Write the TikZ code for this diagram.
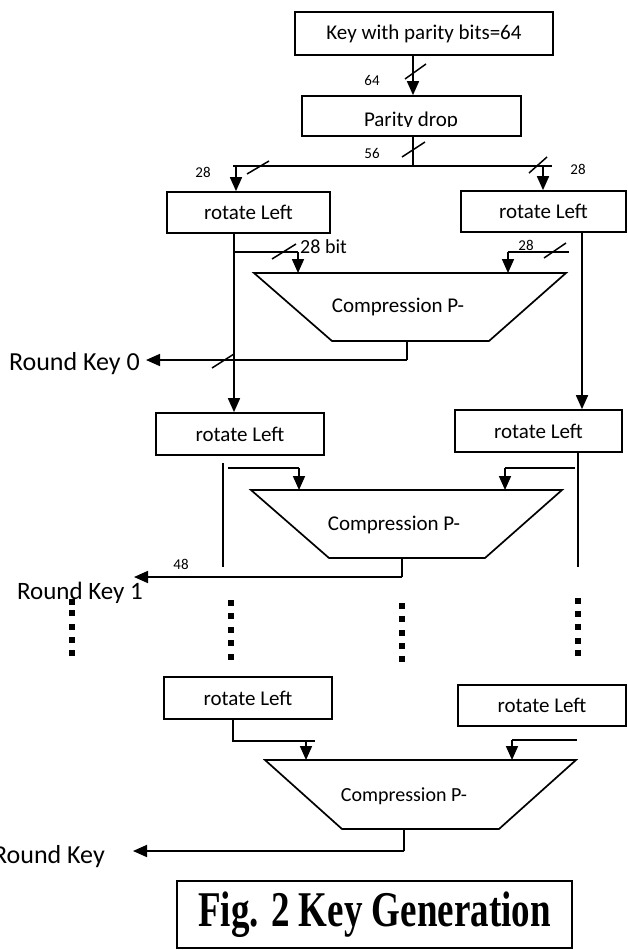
\documentclass[tikz,border=0pt]{standalone}
\usepackage{fontspec}
\usepackage{graphicx}
\setmainfont{Carlito}
\newfontfamily\figfont{Liberation Serif}
\usetikzlibrary{arrows.meta,calc}
\begin{document}
\begin{tikzpicture}[x=1pt,y=-1pt,
  wire/.style={line width=1.7pt},
  arr/.style={wire,-{Triangle[length=14pt,width=12pt]}},
  tick/.style={line width=1.5pt},
  rbox/.style={draw,line width=1.7pt,inner sep=0pt,font=\fontsize{21}{24}\selectfont},
  ctext/.style={inner sep=0pt,font=\fontsize{21}{24}\selectfont},
  lbl/.style={inner sep=0pt,font=\fontsize{15}{17}\selectfont},
  rkey/.style={inner sep=0pt,font=\fontsize{26}{30}\selectfont},
]
\useasboundingbox (0,0) rectangle (627,950);

% ---------- boxes ----------
\node[rbox,minimum width=258pt,minimum height=43pt] (k64) at (424,33.5) {Key with parity bits=64};
\node[rbox,minimum width=219pt,minimum height=40pt] (pd) at (411.5,116) {};
\begin{scope}
  \clip (300,96) rectangle (523,126.5);
  \node[ctext,anchor=base] (pdtext) at (411,126) {Parity drop};
\end{scope}
\node[rbox,minimum width=163pt,minimum height=41pt] (rl1) at (248.5,212.5) {rotate Left};
\node[rbox,minimum width=165pt,minimum height=41pt] (rr1) at (543.5,211.5) {rotate Left};
\node[rbox,minimum width=168pt,minimum height=42pt] (rl2) at (240,434) {rotate Left};
\node[rbox,minimum width=167pt,minimum height=42pt] (rr2) at (538.5,431) {rotate Left};
\node[rbox,minimum width=168pt,minimum height=42pt] (rl3) at (248,698) {rotate Left};
\node[rbox,minimum width=168pt,minimum height=41pt] (rr3) at (542,705.5) {rotate Left};

% ---------- compression boxes ----------
\coordinate (t1a) at (254,273); \coordinate (t1b) at (566,273);
\coordinate (t1c) at (489,341); \coordinate (t1d) at (332,341);
\draw[wire] (t1a) -- (t1b) -- (t1c) -- (t1d) -- cycle;
\node[ctext] (cp1) at (398,307) {Compression P-};

\coordinate (t2a) at (251,490); \coordinate (t2b) at (562,490);
\coordinate (t2c) at (485,558); \coordinate (t2d) at (329,558);
\draw[wire] (t2a) -- (t2b) -- (t2c) -- (t2d) -- cycle;
\node[ctext] (cp2) at (394,525) {Compression P-};

\coordinate (t3a) at (265,760); \coordinate (t3b) at (576,760);
\coordinate (t3c) at (499,829); \coordinate (t3d) at (342,829);
\draw[wire] (t3a) -- (t3b) -- (t3c) -- (t3d) -- cycle;
\node[ctext,font=\fontsize{20}{23}\selectfont] (cp3) at (404,796) {Compression P-};

% ---------- key input and parity drop ----------
\coordinate (c64) at (413,0);
\draw[arr] (k64.south -| c64) -- (pd.north -| c64);
\draw[tick] (405,79) -- (426,64);
\node[lbl] (n64) at (372,80) {64};

\coordinate (sL) at (233,166); \coordinate (sR) at (552,166);
\draw[wire] (pd.south -| c64) -- (sL -| c64);
\draw[wire] (sL) -- (sR);
\draw[tick] (402,157) -- (425,142);
\node[lbl] (n56) at (372,153) {56};

\coordinate (aL) at (236,166); \coordinate (aR) at (543,166);
\draw[arr] (aL) -- (aL |- rl1.north);
\draw[arr] (aR) -- (aR |- rr1.north);
\draw[tick] (247,174) -- (269,161);
\node[lbl] (n28a) at (203,172) {28};
\draw[tick] (529,173) -- (547,157);
\node[lbl] (n28b) at (578,169) {28};

% ---------- first round ----------
\coordinate (xl1) at (234,0); \coordinate (xr1) at (582,0);
\draw[arr] (rl1.south -| xl1) -- (rl2.north -| xl1);
\draw[arr] (rr1.south -| xr1) -- (rr2.north -| xr1);

\coordinate (bL) at (234,252); \coordinate (bLe) at (298,252);
\draw[wire] (bL) -- (bLe);
\draw[arr] (bLe) -- (bLe |- t1a);
\draw[tick] (272,259) -- (296,244);
\node[ctext,anchor=west,font=\fontsize{20}{23}\selectfont] (n28bit) at (300,247) {28 bit};

\coordinate (bR) at (569,252); \coordinate (bRe) at (508,252);
\draw[wire] (bR) -- (bRe);
\draw[arr] (bRe) -- (bRe |- t1a);
\draw[tick] (544,258) -- (566,243);
\node[lbl] (n28c) at (526,245) {28};

\coordinate (o1) at (407,341); \coordinate (o1b) at (407,360);
\node[rkey,anchor=base east] (rk0) at (140,370) {Round Key 0};
\draw[wire] (o1) -- (o1b);
\draw[arr] (o1b) -- ($(rk0.east |- o1b)+(6,0)$);
\draw[tick] (212,368) -- (234,354);

% ---------- second round ----------
\draw[wire] (223,463) -- (223,567);
\coordinate (cL2) at (228,468); \coordinate (cL2e) at (299,468);
\draw[wire] (cL2) -- (cL2e);
\draw[arr] (cL2e) -- (cL2e |- t2a);

\coordinate (xr2) at (578,0);
\draw[wire] (rr2.south -| xr2) -- (578,567);
\coordinate (cR2) at (575,468); \coordinate (cR2e) at (505,468);
\draw[wire] (cR2) -- (cR2e);
\draw[arr] (cR2e) -- (cR2e |- t2a);

\coordinate (o2) at (402,558); \coordinate (o2b) at (402,577);
\node[rkey,font=\fontsize{25}{29}\selectfont,anchor=base] (rk1) at (80,599) {Round Key 1};
\draw[wire] (o2) -- (o2b);
\draw[arr] (o2b) -- (134,577);
\node[lbl] (n48) at (181,564) {48};

% ---------- dotted continuation ----------
\foreach \x/\ys in {72/{602,613,627,640,653},
                    231/{603,616,630,643,657},
                    402/{606,619,633,646,659},
                    578/{601,614,627,641,653}}
  \foreach \y in \ys
    \fill (\x-3,\y-3) rectangle ++(6,6);

% ---------- last round ----------
\coordinate (xl3) at (233,0);
\coordinate (cL3) at (233,741); \coordinate (cL3e) at (315,741);
\coordinate (cL3a) at (306,741);
\draw[wire] (rl3.south -| xl3) -- (cL3) -- (cL3e);
\draw[arr] (cL3a) -- (cL3a |- t3a);

\coordinate (cR3) at (577,740); \coordinate (cR3e) at (512,740);
\draw[wire] (cR3) -- (cR3e);
\draw[arr] (cR3e) -- (cR3e |- t3a);

\coordinate (o3) at (404,829); \coordinate (o3b) at (404,851);
\node[rkey,anchor=base east] (rkn) at (105,863) {Round Key};
\draw[wire] (o3) -- (o3b);
\draw[arr] (o3b) -- (133,851);

% ---------- caption ----------
\node[draw,line width=1.7pt,inner sep=0pt,minimum width=395pt,minimum height=67pt] (fig) at (374.5,914.5)
  {\scalebox{0.74}[1]{\figfont\bfseries\fontsize{50}{54}\selectfont Fig. 2 Key Generation}};
\end{tikzpicture}
\end{document}
